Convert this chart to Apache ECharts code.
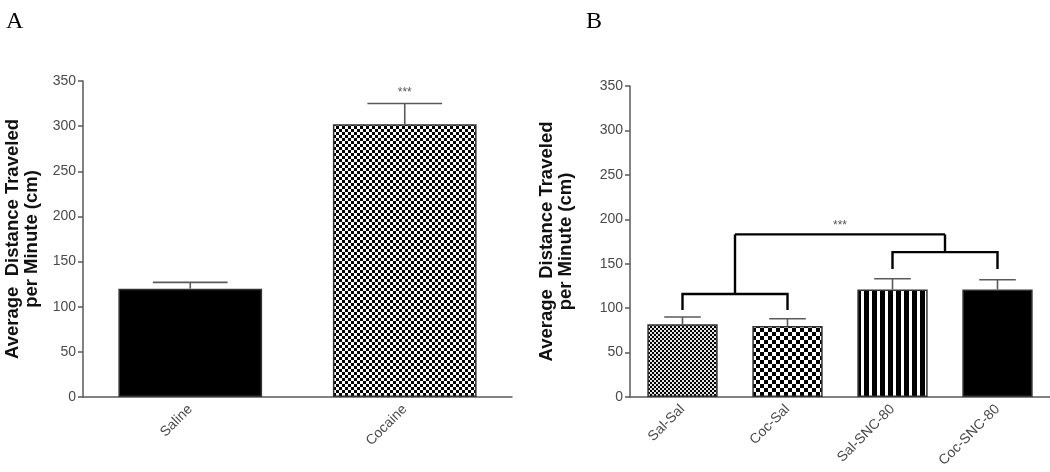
<!DOCTYPE html>
<html>
<head>
<meta charset="utf-8">
<script src="https://cdn.jsdelivr.net/npm/echarts@6/dist/echarts.min.js"></script>
<style>html,body{margin:0;padding:0;background:#fff}#c{width:1050px;height:472px}</style>
</head>
<body>
<div id="c"></div>
<script>
// ---- data ----
const catsA = ['Saline', 'Cocaine'];
const meanA = [120, 302];
const semA = [7, 23];
const sigA = ['', '***'];

const catsB = ['Sal-Sal', 'Coc-Sal', 'Sal-SNC-80', 'Coc-SNC-80'];
const meanB = [82, 80, 121, 121];
const semB = [8, 8, 12, 11];

const bracketPairs = [[0, 1], [2, 3]];
const bracketLow = [98, 144];
const bracketHigh = [116, 163];
const bracketTop = 183;
const bracketSig = '***';

const yTicks = [0, 50, 100, 150, 200, 250, 300, 350];
const yName = 'Average  Distance Traveled\nper Minute (cm)';

// ---- patterns ----
function checker(cell, light) {
  const c = document.createElement('canvas');
  c.width = c.height = cell * 2;
  const x = c.getContext('2d');
  x.fillStyle = light || '#fff'; x.fillRect(0, 0, cell * 2, cell * 2);
  x.fillStyle = '#000';
  x.fillRect(0, 0, cell, cell); x.fillRect(cell, cell, cell, cell);
  return { image: c, repeat: 'repeat' };
}
function stripes(b, w) {
  const c = document.createElement('canvas');
  c.width = b + w; c.height = 4;
  const x = c.getContext('2d');
  x.fillStyle = '#fff'; x.fillRect(0, 0, b + w, 4);
  x.fillStyle = '#000'; x.fillRect(0, 0, b, 4);
  return { image: c, repeat: 'repeat' };
}
const fillsA = ['#000', checker(3)];
const fillsB = [checker(2, '#e4e4e4'), checker(4), stripes(5, 3), '#000'];

const FONT = 'Liberation Sans, Arial, sans-serif';
const axisGray = '#5a5a5a';

function yAxis(grid, gap) {
  return {
    type: 'value', gridIndex: grid, min: 0, max: yTicks[yTicks.length - 1], interval: 50,
    splitLine: { show: false },
    axisLine: { show: true, lineStyle: { color: axisGray, width: 1.5 } },
    axisTick: { show: true, length: 5, lineStyle: { color: axisGray, width: 1.5 } },
    axisLabel: { color: '#4a4a4a', fontSize: 14, fontFamily: FONT, margin: 7 },
    name: yName, nameLocation: 'middle', nameGap: gap, nameRotate: 90,
    nameTextStyle: { color: '#111', fontSize: 18.5, fontWeight: 'bold', fontFamily: FONT, lineHeight: 19, align: 'center' }
  };
}
function xAxis(grid, cats) {
  return {
    type: 'category', gridIndex: grid, data: cats,
    axisLine: { lineStyle: { color: axisGray, width: 1.5 } },
    axisTick: { alignWithLabel: true, length: 6, lineStyle: { color: axisGray, width: 1.5 } },
    axisLabel: { rotate: 45, color: '#4a4a4a', fontSize: 14, fontFamily: FONT, margin: 10, interval: 0 }
  };
}

function errSeries(xi, yi, means, sems, sigs) {
  return {
    type: 'custom', xAxisIndex: xi, yAxisIndex: yi, z: 5,
    data: means.map((m, i) => [i, m, m + sems[i], sigs ? sigs[i] : '']),
    renderItem: function (params, api) {
      const i = api.value(0);
      const p0 = api.coord([i, api.value(1)]);
      const p1 = api.coord([i, api.value(2)]);
      const band = api.size([1, 0])[0];
      const half = band * 0.67 * 0.26;
      const st = { stroke: axisGray, lineWidth: 1.6 };
      const ch = [
        { type: 'line', shape: { x1: p0[0], y1: p0[1], x2: p1[0], y2: p1[1] }, style: st },
        { type: 'line', shape: { x1: p1[0] - half, y1: p1[1], x2: p1[0] + half, y2: p1[1] }, style: st }
      ];
      const s = api.value(3);
      if (s) ch.push({ type: 'text', x: p1[0], y: p1[1] - 5, style: { text: s, fill: '#555', font: '12px ' + FONT, align: 'center', verticalAlign: 'bottom' } });
      return { type: 'group', children: ch };
    }
  };
}

function bracketSeries(xi, yi) {
  return {
    type: 'custom', xAxisIndex: xi, yAxisIndex: yi, z: 6,
    data: [0],
    renderItem: function (params, api) {
      const st = { stroke: '#000', lineWidth: 2.4, fill: null };
      const ch = [];
      const mids = [];
      bracketPairs.forEach((pr, k) => {
        const a0 = api.coord([pr[0], bracketLow[k]]);
        const a1 = api.coord([pr[0], bracketHigh[k]]);
        const b0 = api.coord([pr[1], bracketLow[k]]);
        const b1 = api.coord([pr[1], bracketHigh[k]]);
        ch.push({ type: 'polyline', shape: { points: [a0, a1, b1, b0] }, style: st });
        const mx = (a1[0] + b1[0]) / 2;
        const top = api.coord([pr[0], bracketTop])[1];
        ch.push({ type: 'line', shape: { x1: mx, y1: a1[1], x2: mx, y2: top }, style: st });
        mids.push([mx, top]);
      });
      ch.push({ type: 'line', shape: { x1: mids[0][0], y1: mids[0][1], x2: mids[1][0], y2: mids[1][1] }, style: st });
      ch.push({ type: 'text', x: (mids[0][0] + mids[1][0]) / 2, y: mids[0][1] - 3,
        style: { text: bracketSig, fill: '#555', font: '12px ' + FONT, align: 'center', verticalAlign: 'bottom' } });
      return { type: 'group', children: ch };
    }
  };
}

const chart = echarts.init(document.getElementById('c'), null, { renderer: 'canvas' });
chart.setOption({
  animation: false,
  backgroundColor: '#fff',
  title: [
    { text: 'A', left: 1, top: 5, textStyle: { fontFamily: 'Liberation Serif, serif', fontWeight: 'normal', fontSize: 24, color: '#000' } },
    { text: 'B', left: 581, top: 5, textStyle: { fontFamily: 'Liberation Serif, serif', fontWeight: 'normal', fontSize: 24, color: '#000' } }
  ],
  grid: [
    { left: 83, width: 429, top: 81, bottom: 75 },
    { left: 630, right: 0, top: 86, bottom: 75 }
  ],
  xAxis: [xAxis(0, catsA), xAxis(1, catsB)],
  yAxis: [yAxis(0, 42), yAxis(1, 55)],
  series: [
    {
      type: 'bar', xAxisIndex: 0, yAxisIndex: 0, barWidth: '67%',
      data: meanA.map((v, i) => ({ value: v, itemStyle: { color: fillsA[i], borderColor: '#333', borderWidth: 1.5 } }))
    },
    errSeries(0, 0, meanA, semA, sigA),
    {
      type: 'bar', xAxisIndex: 1, yAxisIndex: 1, barWidth: '67%',
      data: meanB.map((v, i) => ({ value: v, itemStyle: { color: fillsB[i], borderColor: '#333', borderWidth: 1.5 } }))
    },
    errSeries(1, 1, meanB, semB, null),
    bracketSeries(1, 1)
  ]
});
</script>
</body>
</html>
